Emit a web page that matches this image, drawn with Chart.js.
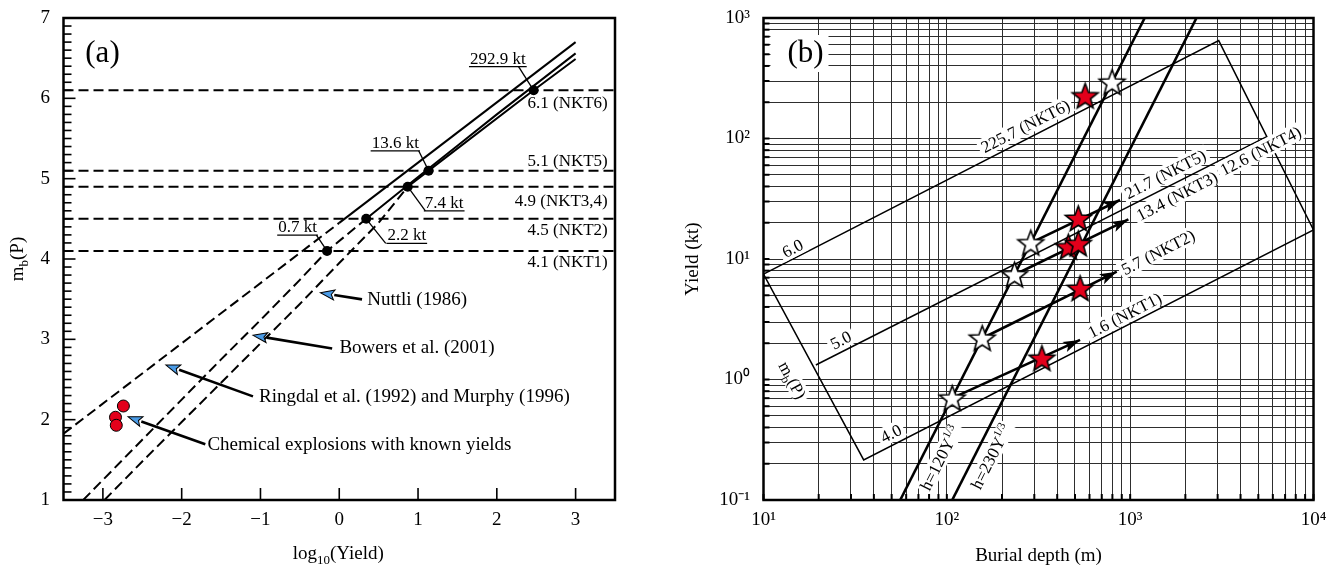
<!DOCTYPE html>
<html><head><meta charset="utf-8">
<script src="https://cdn.jsdelivr.net/npm/chart.js@4.4.1/dist/chart.umd.min.js"></script>
<style>
html,body{margin:0;padding:0;background:#fff;width:1333px;height:566px;overflow:hidden}
#wa{position:absolute;left:0;top:0;width:660px;height:566px}
#wb{position:absolute;left:680px;top:0;width:653px;height:566px}
</style></head><body>
<div id="wa"><canvas id="ca" width="660" height="566"></canvas></div>
<div id="wb"><canvas id="cb" width="653" height="566"></canvas></div>
<script>
// ---------------- Panel (a) data ----------------
const xTicksA = [-3, -2, -1, 0, 1, 2, 3];
const yTicksA = [1, 2, 3, 4, 5, 6, 7];
const ringdalLogY = [-3.5, 0.0, 3.0];
const ringdalMb   = [1.825, 4.45, 6.70];
const bowersLogY = [-3.25, -2.5, -2.0, -1.5, -1.0, -0.5, -0.155, 0.342, 1.0, 1.5, 2.0, 2.5, 3.0];
const bowersMb   = [1.0, 1.75, 2.25, 2.75, 3.24, 3.74, 4.1, 4.5, 5.02, 5.41, 5.8, 6.18, 6.56];
const nuttliLogY = [-2.98, -2.5, -2.0, -1.5, -1.0, -0.5, 0.0, 0.5, 0.869, 1.134, 2.467, 3.0];
const nuttliMb   = [1.0, 1.48, 1.97, 2.46, 2.95, 3.44, 3.95, 4.45, 4.9, 5.1, 6.1, 6.49];
const nktMb     = [6.1, 5.1, 4.9, 4.5, 4.1];
const nktLabels = ['6.1 (NKT6)', '5.1 (NKT5)', '4.9 (NKT3,4)', '4.5 (NKT2)', '4.1 (NKT1)'];
const dotLogY   = [-0.155, 0.342, 0.869, 1.134, 2.467];
const dotMb     = [4.1, 4.5, 4.9, 5.1, 6.1];
const dotLabels = ['0.7 kt', '2.2 kt', '7.4 kt', '13.6 kt', '292.9 kt'];
const chemLogY  = [-2.74, -2.84, -2.83];
const chemMb    = [2.17, 2.03, 1.93];
const annotTexts = ['Nuttli (1986)', 'Bowers et al. (2001)', 'Ringdal et al. (1992) and Murphy (1996)', 'Chemical explosions with known yields'];

// ---------------- Panel (b) data ----------------
const depthTicks = [10,20,30,40,50,60,70,80,90,100,200,300,400,500,600,700,800,900,1000,2000,3000,4000,5000,6000,7000,8000,9000,10000];
const yieldTicks = [0.1,0.2,0.3,0.4,0.5,0.6,0.7,0.8,0.9,1,2,3,4,5,6,7,8,9,10,20,30,40,50,60,70,80,90,100,200,300,400,500,600,700,800,900,1000];
const whiteDepth = [107, 156, 234, 287, 797];
const whiteYield = [0.7, 2.2, 7.4, 13.6, 292.9];
const redDepth = [330, 533, 460, 521, 521, 568];
const redYield = [1.5, 5.7, 12.6, 13.4, 21.7, 225.7];
const arrowFromDepth = [107, 156, 234, 287];
const arrowFromYield = [0.7, 2.2, 7.4, 13.6];
const arrowToDepth = [533, 845, 978, 881];
const arrowToYield = [2.13, 7.85, 21.3, 30.9];
const boxDepth = [10, 3041, 10000, 35.2, 10];
const boxYield = [7.5, 649, 17.4, 0.215, 7.5];
const mb5Depth = [19.3, 5560];
const mb5Yield = [1.32, 103.5];
const h120Depth = [55.7, 1200];
const h120Yield = [0.1, 1000];
const h230Depth = [107, 2300];
const h230Yield = [0.1, 1000];
const labelTextsB = ['6.0', '225.7 (NKT6)', '21.7 (NKT5)', '13.4 (NKT3)', '12.6 (NKT4)', '5.7 (NKT2)', '5.0', '4.0', '1.6 (NKT1)'];

// ---------------- layout (positions in data units) ----------------
const SERIF = "'Liberation Serif','Times New Roman',serif";
const layoutA = {
  nktLabelX: 3.408, nktLabelY: [5.94, 5.21, 4.71, 4.36, 3.95],
  dotLabel: [[-0.529, 4.298, -0.29], [0.857, 4.194, 0.59], [1.332, 4.60, 1.093], [0.711, 5.347, 1.008], [2.013, 6.394, 2.276]],
  annot: [
    {tx: 0.355, ty: 3.49, from: [0.289, 3.497], to: [-0.239, 3.58]},
    {tx: 0.0025, ty: 2.89, from: [-0.09, 2.887], to: [-1.094, 3.05]},
    {tx: -1.019, ty: 2.285, from: [-1.095, 2.29], to: [-2.2, 2.68]},
    {tx: -1.673, ty: 1.68, from: [-1.70, 1.695], to: [-2.68, 2.035]}
  ]
};
const layoutB = {
  labels: [[14.4, 12.3], [268, 127], [1552, 50.7], [1799, 33.5], [5140, 79.2], [1419, 11.4], [26.4, 2.13], [49.5, 0.358], [933, 3.43]],
  mbLabel: [14.4, 0.99],
  h120Label: [91.9, 0.223],
  h230Label: [174, 0.229]
};

function font(sz) { return sz + 'px ' + SERIF; }
function richWidth(ctx, parts) { let w = 0; for (const p of parts) { ctx.font = font(p.size || 17); w += ctx.measureText(p.t).width; } return w; }
function drawRich(ctx, parts, x, y, align) {
  const w = richWidth(ctx, parts);
  let cx = align === 'center' ? x - w / 2 : (align === 'right' ? x - w : x);
  ctx.textAlign = 'left'; ctx.textBaseline = 'alphabetic';
  for (const p of parts) { ctx.font = font(p.size || 17); ctx.fillText(p.t, cx, y + (p.dy || 0)); cx += ctx.measureText(p.t).width; }
}
function pts(xs, ys, from, to) { const o = []; for (let i = from; i <= to; i++) o.push({x: xs[i], y: ys[i]}); return o; }
function lineDs(data, dash, width) {
  return {data, showLine: true, pointRadius: 0, borderColor: '#000', borderWidth: width || 2, borderDash: dash || [], fill: false};
}
function starCanvas(fill, R) {
  const c = document.createElement('canvas'); const S = Math.ceil(2 * R + 4); c.width = S; c.height = S;
  const g = c.getContext('2d'); g.translate(S / 2, S / 2 + R * 0.08);
  g.beginPath();
  for (let i = 0; i < 10; i++) { const r = i % 2 ? R * 0.42 : R; const a = -Math.PI / 2 + i * Math.PI / 5; g.lineTo(r * Math.cos(a), r * Math.sin(a)); }
  g.closePath(); g.fillStyle = fill; g.fill(); g.lineWidth = 1.6; g.strokeStyle = '#000'; g.lineJoin = 'miter'; g.stroke();
  return c;
}

// ---------------- Panel (a) ----------------
const panelAPlugin = {
  id: 'pa',
  afterDraw(chart) {
    const {ctx, chartArea: a, scales: {x, y}} = chart;
    const P = (u, v) => [x.getPixelForValue(u), y.getPixelForValue(v)];
    ctx.save();
    ctx.strokeStyle = '#000'; ctx.fillStyle = '#000';
    ctx.lineWidth = 2.5; ctx.strokeRect(a.left, a.top, a.right - a.left, a.bottom - a.top);
    ctx.lineWidth = 1.6;
    for (let k = 0; k <= 60; k++) {
      const v = yTicksA[0] + k / 10; const py = y.getPixelForValue(v);
      const len = (k % 10 === 0) ? 12 : 8;
      ctx.beginPath(); ctx.moveTo(a.left, py); ctx.lineTo(a.left + len, py); ctx.stroke();
    }
    for (const v of xTicksA) { const px = x.getPixelForValue(v); ctx.beginPath(); ctx.moveTo(px, a.bottom); ctx.lineTo(px, a.bottom - 12); ctx.stroke(); }
    ctx.font = font(17); ctx.textAlign = 'right'; ctx.textBaseline = 'middle';
    nktLabels.forEach((t, i) => { const [px, py] = P(layoutA.nktLabelX, layoutA.nktLabelY[i]); ctx.fillText(t, px, py); });
    ctx.lineWidth = 1.3;
    dotLabels.forEach((t, i) => {
      const [cx, uy] = P(layoutA.dotLabel[i][0], layoutA.dotLabel[i][1]);
      const lx = x.getPixelForValue(layoutA.dotLabel[i][2]);
      const [dx, dy] = P(dotLogY[i], dotMb[i]);
      ctx.font = font(17); ctx.textAlign = 'center'; ctx.textBaseline = 'alphabetic';
      const w = ctx.measureText(t).width;
      ctx.fillText(t, cx, uy - 3);
      ctx.beginPath(); ctx.moveTo(cx - w / 2 - 1, uy); ctx.lineTo(cx + w / 2 + 1, uy); ctx.stroke();
      ctx.beginPath(); ctx.moveTo(lx, uy); ctx.lineTo(dx, dy); ctx.stroke();
    });
    annotTexts.forEach((t, i) => {
      const an = layoutA.annot[i];
      const [x1, y1] = P(an.from[0], an.from[1]); const [x2, y2] = P(an.to[0], an.to[1]);
      const ang = Math.atan2(y2 - y1, x2 - x1), L = 14, W = 5;
      ctx.beginPath(); ctx.moveTo(x1, y1); ctx.lineTo(x2 - L * Math.cos(ang), y2 - L * Math.sin(ang));
      ctx.lineWidth = 2.6; ctx.strokeStyle = '#000'; ctx.stroke();
      ctx.save(); ctx.translate(x2, y2); ctx.rotate(ang);
      ctx.beginPath(); ctx.moveTo(0, 0); ctx.lineTo(-L, W); ctx.lineTo(-L + 3, 0); ctx.lineTo(-L, -W); ctx.closePath();
      ctx.fillStyle = '#4a9be6'; ctx.fill(); ctx.lineWidth = 1; ctx.stroke(); ctx.restore();
      const [tx, ty] = P(an.tx, an.ty);
      ctx.fillStyle = '#000'; ctx.font = font(19); ctx.textAlign = 'left'; ctx.textBaseline = 'middle';
      ctx.fillText(t, tx, ty);
    });
    ctx.font = font(31); ctx.textAlign = 'center'; ctx.textBaseline = 'middle';
    ctx.fillText('(a)', a.left + 39, a.top + 36);
    drawRich(ctx, [{t: 'log', size: 19}, {t: '10', size: 13, dy: 5}, {t: '(Yield)', size: 19}], (a.left + a.right) / 2 - 1, 559, 'center');
    ctx.save(); ctx.translate(23, (a.top + a.bottom) / 2); ctx.rotate(-Math.PI / 2);
    drawRich(ctx, [{t: 'm', size: 19}, {t: 'b', size: 13, dy: 5}, {t: '(P)', size: 19}], 0, 0, 'center');
    ctx.restore();
    ctx.restore();
  }
};

const dsA = [
  {data: pts(dotLogY, dotMb, 0, dotLogY.length - 1), pointRadius: 5, backgroundColor: '#000', borderColor: '#000', borderWidth: 0},
  {data: pts(chemLogY, chemMb, 0, chemLogY.length - 1), pointRadius: 6, backgroundColor: '#e3001b', borderColor: '#000', borderWidth: 1},
  lineDs(pts(ringdalLogY, ringdalMb, 0, 1), [10, 5]),
  lineDs(pts(ringdalLogY, ringdalMb, 1, ringdalLogY.length - 1)),
  lineDs(pts(bowersLogY, bowersMb, 0, 7), [10, 5]),
  lineDs(pts(bowersLogY, bowersMb, 7, bowersLogY.length - 1)),
  lineDs(pts(nuttliLogY, nuttliMb, 0, 8), [10, 5]),
  lineDs(pts(nuttliLogY, nuttliMb, 8, nuttliLogY.length - 1))
];
nktMb.forEach(v => dsA.push(lineDs([{x: -3.5, y: v}, {x: 3.5, y: v}], [10, 5])));

new Chart(document.getElementById('ca'), {
  type: 'scatter',
  data: {datasets: dsA},
  options: {
    responsive: false, animation: false, events: [], devicePixelRatio: 1,
    layout: {padding: {left: 0, top: 18, right: 45, bottom: 0}},
    plugins: {legend: {display: false}, tooltip: {enabled: false}},
    scales: {
      x: {type: 'linear', min: -3.5, max: 3.5,
        afterBuildTicks: s => { s.ticks = xTicksA.map(v => ({value: v})); },
        afterFit: s => { s.height = 66; s.paddingLeft = 0; s.paddingRight = 0; },
        grid: {display: false, drawTicks: false}, border: {display: false},
        ticks: {padding: 9, color: '#000', font: {size: 19, family: SERIF}, maxRotation: 0, autoSkip: false,
          callback: v => v < 0 ? '\u2212' + Math.abs(v) : String(v)}},
      y: {type: 'linear', min: 1, max: 7,
        afterBuildTicks: s => { s.ticks = yTicksA.map(v => ({value: v})); },
        afterFit: s => { s.width = 63.5; s.paddingTop = 0; s.paddingBottom = 0; },
        grid: {display: false, drawTicks: false}, border: {display: false},
        ticks: {padding: 13.5, color: '#000', font: {size: 19, family: SERIF}, autoSkip: false, callback: v => String(v)}}
    }
  },
  plugins: [panelAPlugin]
});

// ---------------- Panel (b) ----------------
const SUP = {'-1': '\u207B\u00B9', '0': '\u2070', '1': '\u00B9', '2': '\u00B2', '3': '\u00B3', '4': '\u2074'};
function decadeLabel(v) { const e = Math.log10(v); const r = Math.round(e); return Math.abs(e - r) < 1e-6 ? '10' + SUP[String(r)] : ''; }

function rotLabel(ctx, parts, cx, cy, ang, pad) {
  ctx.save(); ctx.translate(cx, cy); ctx.rotate(ang);
  const w = richWidth(ctx, parts); const h = 16;
  ctx.fillStyle = '#fff'; ctx.fillRect(-w / 2 - (pad || 3), -h / 2 - 1, w + 2 * (pad || 3), h + 2);
  ctx.fillStyle = '#000'; drawRich(ctx, parts, 0, 5.8, 'center');
  ctx.restore();
}

const panelBPlugin = {
  id: 'pb',
  afterDatasetsDraw(chart) {
    const {ctx, scales: {x, y}} = chart;
    const P = (d, v) => [x.getPixelForValue(d), y.getPixelForValue(v)];
    ctx.save();
    for (let i = 0; i < arrowFromDepth.length; i++) {
      const [x1, y1] = P(arrowFromDepth[i], arrowFromYield[i]); const [x2, y2] = P(arrowToDepth[i], arrowToYield[i]);
      const ang = Math.atan2(y2 - y1, x2 - x1);
      ctx.save(); ctx.translate(x2, y2); ctx.rotate(ang);
      ctx.beginPath(); ctx.moveTo(0, 0); ctx.lineTo(-17, 5.5); ctx.lineTo(-13, 0); ctx.lineTo(-17, -5.5); ctx.closePath();
      ctx.fillStyle = '#000'; ctx.fill(); ctx.restore();
    }
    const [ax, ay] = P(boxDepth[0], boxYield[0]); const [bx, by] = P(boxDepth[1], boxYield[1]); const [dx, dy] = P(boxDepth[3], boxYield[3]);
    const angMb = Math.atan2(by - ay, bx - ax); const angEdge = Math.atan2(dy - ay, dx - ax);
    labelTextsB.forEach((t, i) => { const [cx, cy] = P(layoutB.labels[i][0], layoutB.labels[i][1]); rotLabel(ctx, [{t, size: 17}], cx, cy, angMb); });
    { const [cx, cy] = P(layoutB.mbLabel[0], layoutB.mbLabel[1]); rotLabel(ctx, [{t: 'm', size: 17}, {t: 'b', size: 12, dy: 4}, {t: '(P)', size: 17}], cx, cy, angEdge); }
    { const [p1x, p1y] = P(h120Depth[0], h120Yield[0]); const [p2x, p2y] = P(h120Depth[1], h120Yield[1]);
      const [cx, cy] = P(layoutB.h120Label[0], layoutB.h120Label[1]);
      rotLabel(ctx, [{t: 'h=120Y', size: 17}, {t: '1/3', size: 11, dy: -7}], cx, cy, Math.atan2(p2y - p1y, p2x - p1x), 2); }
    { const [p1x, p1y] = P(h230Depth[0], h230Yield[0]); const [p2x, p2y] = P(h230Depth[1], h230Yield[1]);
      const [cx, cy] = P(layoutB.h230Label[0], layoutB.h230Label[1]);
      rotLabel(ctx, [{t: 'h=230Y', size: 17}, {t: '1/3', size: 11, dy: -7}], cx, cy, Math.atan2(p2y - p1y, p2x - p1x), 2); }
    ctx.restore();
  },
  afterDraw(chart) {
    const {ctx, chartArea: a, scales: {x, y}} = chart;
    ctx.save();
    ctx.strokeStyle = '#000'; ctx.fillStyle = '#000';
    ctx.lineWidth = 2.5; ctx.strokeRect(a.left, a.top, a.right - a.left, a.bottom - a.top);
    ctx.lineWidth = 2;
    for (const v of depthTicks) { const px = x.getPixelForValue(v); ctx.beginPath(); ctx.moveTo(px, a.bottom); ctx.lineTo(px, a.bottom - 6); ctx.stroke(); }
    for (const v of yieldTicks) { const py = y.getPixelForValue(v); ctx.beginPath(); ctx.moveTo(a.left, py); ctx.lineTo(a.left + 6, py); ctx.stroke(); }
    ctx.fillStyle = '#fff'; ctx.fillRect(a.left + 7, a.top + 17, 58, 37);
    ctx.fillStyle = '#000'; ctx.font = font(31); ctx.textAlign = 'center'; ctx.textBaseline = 'middle';
    ctx.fillText('(b)', a.left + 42, a.top + 36);
    drawRich(ctx, [{t: 'Burial depth (m)', size: 19}], (a.left + a.right) / 2, 561, 'center');
    ctx.save(); ctx.translate(18, (a.top + a.bottom) / 2); ctx.rotate(-Math.PI / 2);
    drawRich(ctx, [{t: 'Yield (kt)', size: 19}], 0, 0, 'center');
    ctx.restore();
    ctx.restore();
  }
};

const redStar = starCanvas('#e3001b', 13.5);
const whiteStar = starCanvas('#ffffff', 13.5);
const dsB = [
  {data: pts(redDepth, redYield, 0, redDepth.length - 1), pointStyle: redStar, pointRadius: 10},
  {data: pts(whiteDepth, whiteYield, 0, whiteDepth.length - 1), pointStyle: whiteStar, pointRadius: 10}
];
for (let i = 0; i < arrowFromDepth.length; i++) dsB.push(lineDs([{x: arrowFromDepth[i], y: arrowFromYield[i]}, {x: arrowToDepth[i], y: arrowToYield[i]}], [], 2.6));
dsB.push(lineDs(pts(h120Depth, h120Yield, 0, 1), [], 2.6));
dsB.push(lineDs(pts(h230Depth, h230Yield, 0, 1), [], 2.6));
dsB.push(lineDs(pts(boxDepth, boxYield, 0, boxDepth.length - 1), [], 1.5));
dsB.push(lineDs(pts(mb5Depth, mb5Yield, 0, 1), [], 1.5));

new Chart(document.getElementById('cb'), {
  type: 'scatter',
  data: {datasets: dsB},
  options: {
    responsive: false, animation: false, events: [], devicePixelRatio: 1,
    layout: {padding: {left: 0, top: 18, right: 19.5, bottom: 0}},
    plugins: {legend: {display: false}, tooltip: {enabled: false}},
    scales: {
      x: {type: 'logarithmic', min: 10, max: 10000,
        afterBuildTicks: s => { s.ticks = depthTicks.map(v => ({value: v})); },
        afterFit: s => { s.height = 66; s.paddingLeft = 0; s.paddingRight = 0; },
        grid: {color: '#2e2e2e', lineWidth: 1, drawTicks: false}, border: {display: false},
        ticks: {padding: 9, color: '#000', font: {size: 19, family: SERIF}, maxRotation: 0, autoSkip: false, callback: decadeLabel}},
      y: {type: 'logarithmic', min: 0.1, max: 1000,
        afterBuildTicks: s => { s.ticks = yieldTicks.map(v => ({value: v})); },
        afterFit: s => { s.width = 83.5; s.paddingTop = 0; s.paddingBottom = 0; },
        grid: {color: '#2e2e2e', lineWidth: 1, drawTicks: false}, border: {display: false},
        ticks: {padding: 13.5, color: '#000', font: {size: 19, family: SERIF}, autoSkip: false, callback: decadeLabel}}
    }
  },
  plugins: [panelBPlugin]
});
</script></body></html>
